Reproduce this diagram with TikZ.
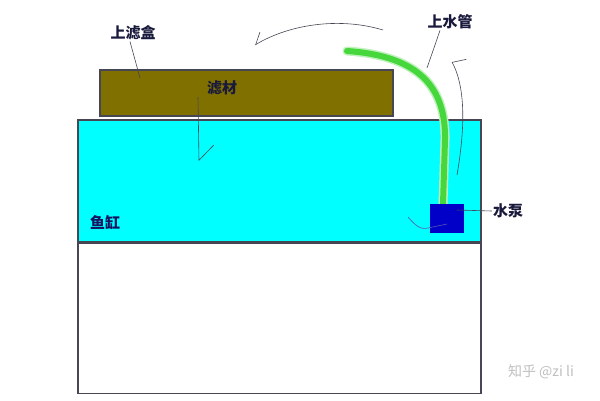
\documentclass[tikz,border=0pt]{standalone}
\usepackage{fontspec}
\newfontfamily\cjk{Noto Sans CJK SC}
\usetikzlibrary{arrows.meta,positioning}

\definecolor{olivebox}{RGB}{128,112,0}
\definecolor{waterblue}{RGB}{0,255,255}
\definecolor{pumpblue}{RGB}{0,0,200}
\definecolor{pipegreen}{RGB}{70,215,60}
\definecolor{inkline}{RGB}{70,70,85}
\definecolor{labelink}{RGB}{25,25,60}
\definecolor{inflow}{RGB}{95,85,175}

\begin{document}
\begin{tikzpicture}[x=1pt,y=-1pt,
  tank part/.style={rectangle,draw=inkline,line width=1.2pt,inner sep=0pt},
  label node/.style={font=\cjk\bfseries\fontsize{15}{17}\selectfont,
    text=labelink,inner sep=1pt},
  leader/.style={draw=inkline,line width=0.6pt},
  flow/.style={leader,-{Straight Barb[#1]}},
  pipe/.style={line width=6pt,line cap=round,pipegreen}]

  \useasboundingbox (0,0) rectangle (600,400);

  % tank, filter box and pump
  \node[tank part,fill=waterblue,minimum width=403pt,minimum height=122pt]
    (water) at (279.5,181) {};
  \node[tank part,fill=white,minimum width=403pt,minimum height=150pt,
    below=0pt of water] (tank) {};
  \node[tank part,fill=olivebox,minimum width=293pt,minimum height=46pt]
    (filter) at (246.5,93) {};

  % water pipe
  \coordinate (pipetop) at (347,51);
  \draw[pipe,line width=9pt,pipegreen!35] (pipetop) .. controls (420,56) and (446,88) .. (445,140) -- (443,204);
  \draw[pipe] (pipetop) .. controls (420,56) and (446,88) .. (445,140) -- (443,204);

  \node[rectangle,fill=pumpblue,minimum width=34pt,minimum height=29pt,
    inner sep=0pt] (pump) at (447,218.5) {};

  % labels
  \node[label node] (boxlbl)  at (133,33)  {上滤盒};
  \node[label node] (medlbl)  at (222,88)  {滤材};
  \node[label node] (pipelbl) at (450,22)  {上水管};
  \node[label node] (pumplbl) at (508,211) {水泵};
  \node[label node,text=labelink!80!blue] (tanklbl) at (105,222) {鱼缸};
  \node[font=\cjk\fontsize{14}{16}\selectfont,text=black!25] (mark)
    at (541,372) {知乎 @zi li};

  % leader lines
  \coordinate (boxpt)  at (140,78);
  \coordinate (pipept) at (427,68);
  \coordinate (pumppt) at (457,210);
  \draw[leader] ([xshift=-3pt]boxlbl.south) -- (boxpt);
  \draw[leader] ([xshift=-10pt]pipelbl.south) -- (pipept);
  \draw[leader] (pumplbl.west) -- (pumppt);

  % water flow
  \coordinate (medtop) at (198,97);
  \coordinate (medend) at (199,161);
  \draw[flow={left,length=15pt,width=30pt}] (medtop) -- (medend);
  \draw[flow={right,length=10pt,width=17pt}] (383,30) .. controls (340,17) and (290,24) .. (255,45);
  \draw[flow={right,length=4pt,width=28pt}] (457,175) .. controls (463,140) and (468,92) .. (452,62);
  \draw[leader,draw=inflow] (408,217) .. controls (415,225) and (420,230) .. (428,228) -- (447,224);

\end{tikzpicture}
\end{document}
